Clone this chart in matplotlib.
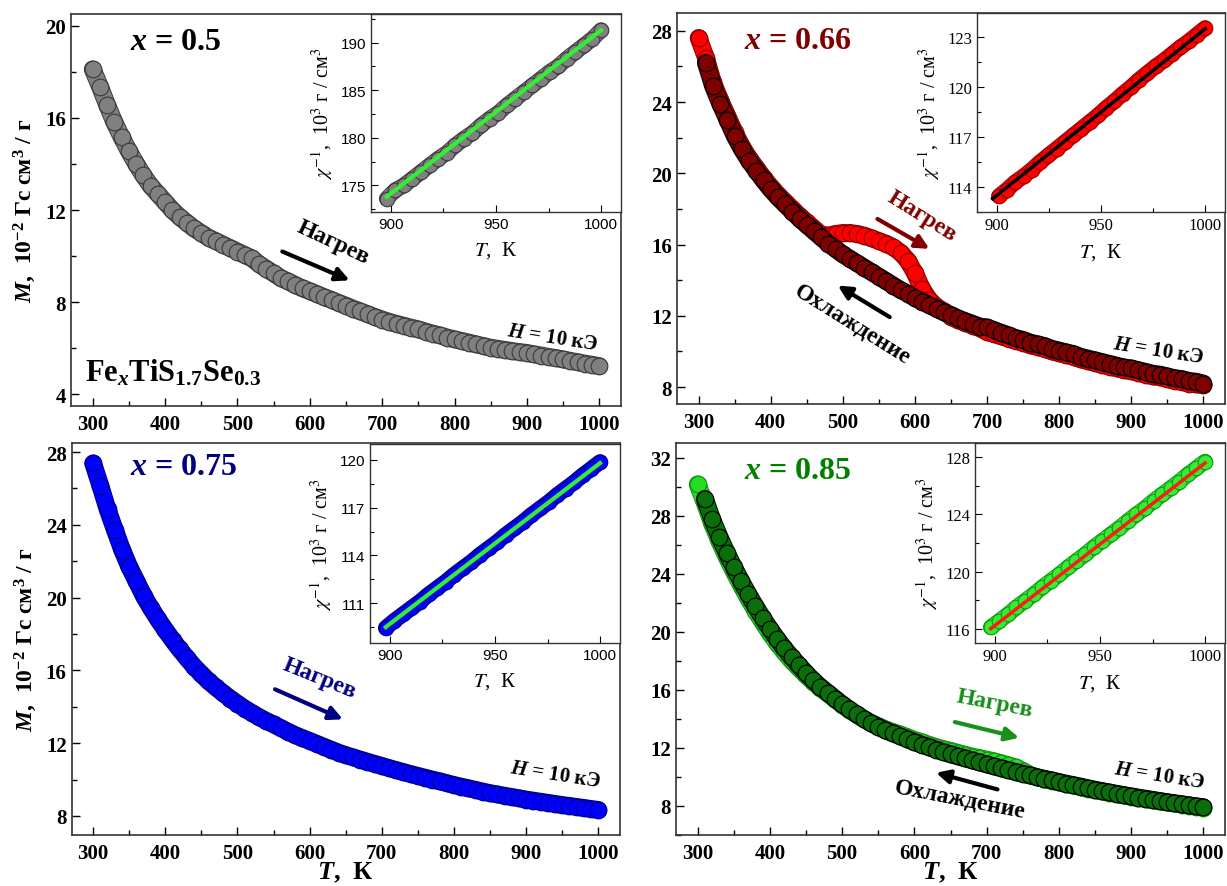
import numpy as np
import matplotlib
matplotlib.use('Agg')
import matplotlib.pyplot as plt
import matplotlib.patheffects as pe
from matplotlib.ticker import MultipleLocator

plt.rcParams['font.family'] = ['Liberation Serif', 'DejaVu Serif']
plt.rcParams['mathtext.fontset'] = 'custom'
plt.rcParams['mathtext.rm'] = 'Liberation Serif:bold'
plt.rcParams['mathtext.bf'] = 'Liberation Serif:bold'
plt.rcParams['mathtext.it'] = 'Liberation Serif:italic:bold'

# ---- data: M(T), 10^-2 emu/g, every 10 K ----
T_main = np.arange(300, 1001, 10)
T_cool = np.arange(310, 1001, 10)

m_050 = [18.1, 17.35, 16.55, 15.8, 15.15, 14.55, 14.0, 13.5, 13.05, 12.7,
         12.35, 12.0, 11.7, 11.45, 11.2, 11.0, 10.8, 10.65, 10.5, 10.35,
         10.2, 10.05, 9.9, 9.65, 9.45, 9.25, 9.05, 8.9, 8.75, 8.6,
         8.48, 8.35, 8.22, 8.1, 7.97, 7.85, 7.72, 7.6, 7.48, 7.36,
         7.25, 7.15, 7.06, 6.98, 6.9, 6.82, 6.73, 6.64, 6.56, 6.47,
         6.39, 6.32, 6.25, 6.17, 6.1, 6.03, 5.98, 5.93, 5.88, 5.84,
         5.8, 5.74, 5.69, 5.63, 5.58, 5.52, 5.46, 5.4, 5.34, 5.29, 5.23]

m_066_heat = [27.6, 26.5, 25.1, 24.1, 23.2, 22.3, 21.5, 20.85, 20.3, 19.75,
              19.25, 18.8, 18.4, 18.0, 17.6, 17.25, 16.9, 16.55, 16.5, 16.6,
              16.65, 16.65, 16.6, 16.5, 16.35, 16.2, 16.05, 15.85, 15.55, 15.1,
              14.4, 13.5, 12.9, 12.5, 12.25, 11.95, 11.75, 11.6, 11.45, 11.3,
              11.1, 10.98, 10.85, 10.72, 10.6, 10.5, 10.35, 10.25, 10.15, 10.0,
              9.9, 9.8, 9.7, 9.55, 9.45, 9.35, 9.25, 9.15, 9.05, 8.95,
              8.9, 8.8, 8.7, 8.6, 8.55, 8.45, 8.35, 8.3, 8.2, 8.15, 8.1]
m_066_cool = [26.2, 24.9, 23.9, 23.0, 22.1, 21.35, 20.7, 20.15, 19.6,
              19.1, 18.65, 18.25, 17.85, 17.45, 17.1, 16.75, 16.4, 16.05, 15.75,
              15.45, 15.2, 14.95, 14.7, 14.45, 14.2, 13.95, 13.7, 13.45, 13.25,
              13.0, 12.8, 12.6, 12.4, 12.2, 12.05, 11.85, 11.7, 11.55, 11.4,
              11.35, 11.2, 11.05, 10.9, 10.75, 10.65, 10.5, 10.4, 10.3, 10.15,
              10.05, 9.95, 9.85, 9.7, 9.6, 9.5, 9.4, 9.3, 9.2, 9.1,
              9.05, 8.95, 8.85, 8.75, 8.7, 8.6, 8.5, 8.45, 8.35, 8.3, 8.2]

m_075 = [27.38, 26.15, 24.85, 23.73, 22.64, 21.7, 20.9, 20.1, 19.42, 18.8,
         18.22, 17.67, 17.15, 16.67, 16.2, 15.8, 15.4, 15.07, 14.75, 14.45,
         14.17, 13.9, 13.66, 13.43, 13.22, 13.03, 12.83, 12.63, 12.44, 12.28,
         12.12, 11.96, 11.8, 11.64, 11.48, 11.34, 11.22, 11.1, 10.98, 10.86,
         10.75, 10.63, 10.52, 10.41, 10.3, 10.2, 10.1, 10.0, 9.9, 9.8,
         9.7, 9.61, 9.52, 9.43, 9.34, 9.25, 9.18, 9.11, 9.04, 8.97,
         8.9, 8.84, 8.78, 8.72, 8.66, 8.6, 8.55, 8.49, 8.44, 8.38, 8.33]

m_085_heat = [30.15, 28.85, 27.45, 26.25, 25.15, 24.15, 23.2, 22.3, 21.45, 20.65,
              19.9, 19.2, 18.6, 18.0, 17.5, 17.0, 16.55, 16.12, 15.75, 15.35,
              14.97, 14.63, 14.3, 14.0, 13.72, 13.5, 13.28, 13.1, 12.93, 12.75,
              12.55, 12.4, 12.22, 12.06, 11.92, 11.8, 11.66, 11.53, 11.4, 11.3,
              11.2, 11.08, 10.95, 10.81, 10.65, 10.42, 10.15, 9.98, 9.86, 9.74,
              9.62, 9.51, 9.41, 9.31, 9.2, 9.1, 9.0, 8.91, 8.82, 8.73,
              8.64, 8.56, 8.48, 8.4, 8.32, 8.24, 8.17, 8.1, 8.03, 7.96, 7.88]
m_085_cool = [29.15, 27.75, 26.55, 25.45, 24.45, 23.5, 22.6, 21.75, 20.95,
              20.2, 19.5, 18.85, 18.25, 17.7, 17.15, 16.65, 16.2, 15.8, 15.4,
              15.0, 14.65, 14.3, 14.0, 13.7, 13.45, 13.2, 13.0, 12.8, 12.6,
              12.4, 12.22, 12.05, 11.88, 11.72, 11.56, 11.42, 11.28, 11.14, 11.0,
              10.86, 10.73, 10.6, 10.47, 10.34, 10.22, 10.1, 9.98, 9.87, 9.76,
              9.65, 9.54, 9.44, 9.34, 9.22, 9.12, 9.02, 8.93, 8.84, 8.75,
              8.66, 8.58, 8.5, 8.42, 8.34, 8.26, 8.19, 8.12, 8.05, 7.98, 7.92]

# ---- insets: inverse susceptibility, 10^3 g/cm^3 ----
T_inset = np.linspace(898, 1000, 26)
T_inset_066 = np.linspace(901, 1000, 26)
chi_050 = [173.6, 174.5, 175.0, 175.7, 176.4, 177.1, 177.8, 178.4, 179.2, 179.9,
           180.5, 181.3, 182.0, 182.6, 183.4, 184.1, 184.8, 185.5, 186.2, 186.9,
           187.5, 188.3, 189.0, 189.7, 190.4, 191.3]
chi_066 = [113.45, 113.85, 114.3, 114.65, 115.05, 115.5, 115.9, 116.3, 116.7, 117.1,
           117.5, 117.9, 118.3, 118.75, 119.15, 119.6, 120.0, 120.45, 120.85, 121.25,
           121.6, 122.0, 122.4, 122.75, 123.15, 123.55]
chi_075 = [109.45, 109.9, 110.3, 110.7, 111.1, 111.55, 111.95, 112.35, 112.8, 113.2,
           113.6, 114.05, 114.45, 114.85, 115.3, 115.7, 116.1, 116.55, 116.95, 117.35,
           117.8, 118.2, 118.6, 119.05, 119.45, 119.87]
chi_085 = [116.1, 116.55, 117.0, 117.5, 117.95, 118.4, 118.9, 119.35, 119.8, 120.3,
           120.75, 121.2, 121.7, 122.15, 122.6, 123.05, 123.55, 124.0, 124.45, 124.95,
           125.4, 125.85, 126.3, 126.8, 127.25, 127.7]
# Curie-Weiss fit lines (end points)
fit_T = [898, 1000]
fit_050 = [173.8, 191.3]
fit_066 = [113.3, 123.5]
fit_075 = [109.5, 119.8]
fit_085 = [116.0, 127.6]

W, H = 1227, 887
fig = plt.figure(figsize=(W / 100, H / 100), dpi=100)


def rect(l, r, t, b):
    return [l / W, 1 - b / H, (r - l) / W, (b - t) / H]


def style_main(ax, ylim, yticks, xlab, ylab):
    ax.set_xlim(270, 1030)
    ax.set_ylim(*ylim)
    ax.set_xticks(range(300, 1001, 100), labels=[str(v) for v in range(300, 1001, 100)],
                  fontweight='bold', fontsize=15)
    ax.set_yticks(yticks, labels=[str(v) for v in yticks], fontweight='bold', fontsize=15)
    ax.xaxis.set_minor_locator(MultipleLocator(50))
    ax.yaxis.set_minor_locator(MultipleLocator(2))
    ax.tick_params(which='both', direction='in', width=1.0)
    ax.tick_params(which='major', length=6)
    ax.tick_params(which='minor', length=3.5)
    ax.tick_params(axis='x', pad=6)
    for s in ax.spines.values():
        s.set_linewidth(1.2)
        s.set_color('#333333')
    if xlab:
        ax.set_xlabel(r'$T$,  К', fontsize=19, fontweight='bold', labelpad=-3)
    if ylab:
        ax.set_ylabel(r'$M$,  10$^{-2}$ Гс см$^3$ / г', fontsize=17, fontweight='bold', labelpad=5)


def style_inset(ax, ylim, yticks, yminor, tickfont, tfs):
    ax.set_xlim(890.5, 1009.5)
    ax.set_ylim(*ylim)
    ax.set_xticks([900, 950, 1000], labels=['900', '950', '1000'], fontfamily=tickfont, fontsize=tfs)
    ax.set_yticks(yticks, labels=[str(v) for v in yticks], fontfamily=tickfont, fontsize=tfs)
    ax.xaxis.set_minor_locator(MultipleLocator(25))
    ax.yaxis.set_minor_locator(MultipleLocator(yminor))
    ax.tick_params(which='both', direction='in', width=0.8)
    ax.tick_params(which='major', length=5)
    ax.tick_params(which='minor', length=3)
    for s in ax.spines.values():
        s.set_linewidth(1.0)
        s.set_color('#333333')
    ax.set_xlabel(r'$T$,  К', fontsize=15, fontfamily='Liberation Serif',
                  math_fontfamily='stix', labelpad=6)
    ax.set_ylabel(r'$\chi^{-1}$,  10$^3$ г / см$^3$', fontsize=14.5, fontfamily='Liberation Serif',
                  math_fontfamily='stix', labelpad=4)


def tube(ax, x, y, fill, edge, ms, z):
    # dense measurement points: a stroked band under the circles
    ax.plot(x, y, '-', color=fill, lw=ms - 0.6, solid_capstyle='round', zorder=z,
            path_effects=[pe.Stroke(linewidth=ms + 0.8, foreground=edge), pe.Normal()])
    ax.plot(x, y, 'o', ms=ms, mfc=fill, mec=edge, mew=0.8, zorder=z + 0.1)


def arrow(ax, start, end, color):
    ax.annotate('', xy=end, xytext=start,
                arrowprops=dict(arrowstyle='-|>', lw=3, color=color, mutation_scale=20,
                                shrinkA=0, shrinkB=0))


def label(ax, x, y, s, color, size, rot):
    ax.text(x, y, s, color=color, fontsize=size, fontweight='bold', rotation=rot,
            rotation_mode='anchor', ha='center', va='center')


MS = 12
ms_in = 10.5

# ---------- x = 0.5 ----------
ax1 = fig.add_axes(rect(71, 621, 15, 407))
tube(ax1, T_main, m_050, '#808080', '#3a3a3a', MS, 2)
style_main(ax1, (3.5, 20.5), [4, 8, 12, 16, 20], False, True)
ax1.text(414, 19.3, r'$x$ = 0.5', fontsize=23, fontweight='bold', ha='center', va='center')
ax1.text(290, 4.6, r'Fe$_{x}$TiS$_{1.7}$Se$_{0.3}$', fontsize=22, fontweight='bold',
         ha='left', va='baseline')
label(ax1, 632, 10.6, 'Нагрев', 'black', 17, -25)
arrow(ax1, (562, 10.2), (655, 8.95), 'black')
label(ax1, 935, 6.5, r'$H$ = 10 кЭ', 'black', 15, -9)

in1 = fig.add_axes(rect(371, 621, 15, 213))
tube(in1, T_inset, chi_050, '#808080', '#3a3a3a', ms_in, 2)
in1.plot(fit_T, fit_050, '-', color='#33ee33', lw=3, zorder=4)
style_inset(in1, (172.2, 193), [175, 180, 185, 190], 2.5, 'Liberation Sans', 11)

# ---------- x = 0.66 ----------
ax2 = fig.add_axes(rect(677, 1225, 14, 405))
tube(ax2, T_main, m_066_heat, '#ff0000', '#8b0000', MS, 2)
tube(ax2, T_cool, m_066_cool, '#800000', 'black', MS, 3)
style_main(ax2, (7.05, 29.0), [8, 12, 16, 20, 24, 28], False, False)
ax2.text(438, 27.44, r'$x$ = 0.66', fontsize=23, fontweight='bold', color='#800000',
         ha='center', va='center')
label(ax2, 610, 17.6, 'Нагрев', '#800000', 17, -32)
arrow(ax2, (548, 17.44), (620, 15.76), '#800000')
label(ax2, 513, 11.55, 'Охлаждение', 'black', 17, -32)
arrow(ax2, (565, 11.93), (493, 13.7), 'black')
label(ax2, 938, 10.05, r'$H$ = 10 кЭ', 'black', 15, -9)

in2 = fig.add_axes(rect(977, 1225, 14, 213))
tube(in2, T_inset_066, chi_066, '#ff0000', '#a00000', ms_in, 2)
in2.plot(fit_T, fit_066, '-', color='black', lw=2.5, zorder=4)
style_inset(in2, (112.5, 124.45), [114, 117, 120, 123], 1.5, 'Liberation Serif', 12)

# ---------- x = 0.75 ----------
ax3 = fig.add_axes(rect(71.5, 620, 444, 836))
tube(ax3, T_main, m_075, '#0000ff', '#00008b', MS, 2)
style_main(ax3, (6.95, 28.5), [8, 12, 16, 20, 24, 28], True, True)
ax3.text(425, 27.23, r'$x$ = 0.75', fontsize=23, fontweight='bold', color='#000080',
         ha='center', va='center')
label(ax3, 614, 15.6, 'Нагрев', '#000080', 17, -22)
arrow(ax3, (552, 14.96), (646, 13.31), '#000080')
label(ax3, 941, 10.3, r'$H$ = 10 кЭ', 'black', 15, -9)

in3 = fig.add_axes(rect(370, 620, 445, 644))
tube(in3, T_inset, chi_075, '#0000ff', '#00008b', ms_in, 2)
in3.plot(fit_T, fit_075, '-', color='#33ee33', lw=3, zorder=4)
style_inset(in3, (108.5, 121.0), [111, 114, 117, 120], 1.5, 'Liberation Sans', 11)

# ---------- x = 0.85 ----------
ax4 = fig.add_axes(rect(676, 1225, 444, 836))
tube(ax4, T_main, m_085_heat, '#22dd22', '#109010', MS, 2)
tube(ax4, T_cool, m_085_cool, '#0a6e0a', 'black', MS, 3)
style_main(ax4, (6.0, 33.0), [8, 12, 16, 20, 24, 28, 32], True, False)
ax4.text(438, 31.08, r'$x$ = 0.85', fontsize=23, fontweight='bold', color='#008000',
         ha='center', va='center')
label(ax4, 711, 15.11, 'Нагрев', '#1a8f1a', 17, -11)
arrow(ax4, (656, 13.78), (745, 12.7), '#1a8f1a')
label(ax4, 663, 8.45, 'Охлаждение', 'black', 17, -11)
arrow(ax4, (715, 9.14), (630, 10.29), 'black')
label(ax4, 940, 10.1, r'$H$ = 10 кЭ', 'black', 15, -9)

in4 = fig.add_axes(rect(975, 1225, 444, 644))
tube(in4, T_inset, chi_085, '#33ee33', '#119911', ms_in, 2)
in4.plot(fit_T, fit_085, '-', color='#ff1a1a', lw=2.5, zorder=4)
style_inset(in4, (115.0, 129.0), [116, 120, 124, 128], 2, 'Liberation Serif', 12)

fig.savefig('out.png', dpi=100)
